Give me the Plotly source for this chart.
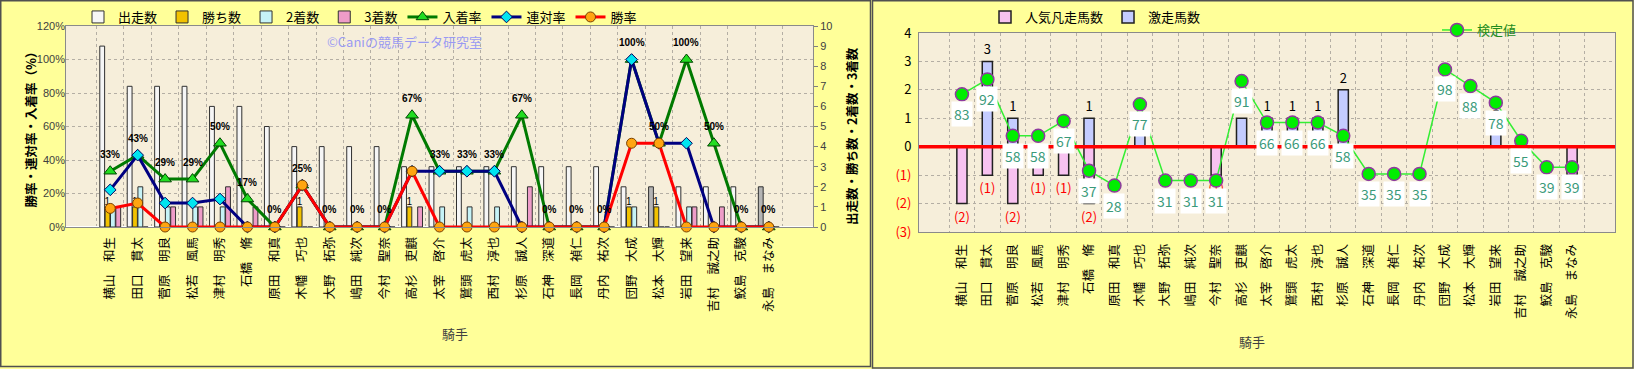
import plotly.graph_objects as go

# ---------------- data ----------------
jockeys = ["横山　和生", "田口　貫太", "菅原　明良", "松若　風馬", "津村　明秀", "石橋　脩",
           "原田　和真", "木幡　巧也", "大野　拓弥", "嶋田　純次", "今村　聖奈", "高杉　吏麒",
           "太宰　啓介", "鷲頭　虎太", "西村　淳也", "杉原　誠人", "石神　深道", "長岡　禎仁",
           "丹内　祐次", "団野　大成", "松本　大輝", "岩田　望来", "吉村　誠之助", "鮫島　克駿",
           "永島　まなみ"]
starts = [9, 7, 7, 7, 6, 6, 5, 4, 4, 4, 4, 3, 3, 3, 3, 3, 3, 3, 3, 2, 2, 2, 2, 2, 2]
wins = [1, 1, 0, 0, 0, 0, 0, 1, 0, 0, 0, 1, 0, 0, 0, 0, 0, 0, 0, 1, 1, 0, 0, 0, 0]
seconds = [1, 2, 1, 1, 1, 0, 0, 0, 0, 0, 0, 0, 1, 1, 1, 0, 0, 0, 0, 1, 0, 1, 0, 0, 0]
thirds = [1, 0, 1, 1, 2, 1, 0, 0, 0, 0, 0, 1, 0, 0, 0, 2, 0, 0, 0, 0, 0, 1, 1, 0, 0]
place_rate = [33.3, 42.9, 28.6, 28.6, 50.0, 16.7, 0, 25.0, 0, 0, 0, 66.7, 33.3, 33.3, 33.3,
              66.7, 0, 0, 0, 100.0, 50.0, 100.0, 50.0, 0, 0]
quinella_rate = [22.2, 42.9, 14.3, 14.3, 16.7, 0, 0, 25.0, 0, 0, 0, 33.3, 33.3, 33.3, 33.3,
                 0, 0, 0, 0, 100.0, 50.0, 50.0, 0, 0, 0]
win_rate = [11.1, 14.3, 0, 0, 0, 0, 0, 25.0, 0, 0, 0, 33.3, 0, 0, 0, 0, 0, 0, 0,
            50.0, 50.0, 0, 0, 0, 0]
gekisou = [0, 3, 1, 0, 0, 1, 0, 1, 0, 0, 0, 1, 1, 1, 1, 2, 0, 0, 0, 0, 0, 1, 0, 0, 0]
bonsou = [-2, -1, -2, -1, -1, -2, 0, 0, 0, 0, -1, 0, 0, 0, 0, 0, 0, 0, 0, 0, 0, 0, 0, 0, -1]
kentei = [83, 92, 58, 58, 67, 37, 28, 77, 31, 31, 31, 91, 66, 66, 66, 58, 35, 35, 35,
          98, 88, 78, 55, 39, 39]
highlight = ["松本　大輝", "永島　まなみ"]
right_ticks = [4, 3, 2, 1, 0, -1, -2, -3]

# ---------------- helpers ----------------
W, H = 1634, 369
def px(x):
    return x / W
def py(y):
    return 1 - y / H

FONT = "Noto Sans CJK JP"
LATIN = "Liberation Sans"
bar_line = dict(color="#303030", width=1)

fig = go.Figure()

# ---------------- left panel ----------------
start_colors = ["#B4B4B4" if j in highlight else "#F6F6F6" for j in jockeys]
fig.add_trace(go.Bar(name="出走数", x=jockeys, y=starts, xaxis="x", yaxis="y",
                     marker=dict(color=start_colors, line=bar_line), offsetgroup="a",
                     legend="legend"))
fig.add_trace(go.Bar(name="勝ち数", x=jockeys, y=wins, xaxis="x", yaxis="y",
                     marker=dict(color="#F2C200", line=bar_line), offsetgroup="b",
                     text=[str(v) if v else "" for v in wins], textposition="outside",
                     textfont=dict(size=10, color="black", family=LATIN),
                     constraintext="none", cliponaxis=False, legend="legend"))
fig.add_trace(go.Bar(name="2着数", x=jockeys, y=seconds, xaxis="x", yaxis="y",
                     marker=dict(color="#C6F3F7", line=bar_line), offsetgroup="c",
                     legend="legend"))
fig.add_trace(go.Bar(name="3着数", x=jockeys, y=thirds, xaxis="x", yaxis="y",
                     marker=dict(color="#EE9CC8", line=bar_line), offsetgroup="d",
                     legend="legend"))
fig.add_trace(go.Scatter(name="入着率", x=jockeys, y=place_rate, xaxis="x", yaxis="y2",
                         mode="lines+markers", line=dict(color="#007A00", width=3),
                         marker=dict(symbol="triangle-up", size=11, color="#22DD22",
                                     line=dict(color="#004400", width=1)),
                         cliponaxis=False, legend="legend"))
fig.add_trace(go.Scatter(name="連対率", x=jockeys, y=quinella_rate, xaxis="x", yaxis="y2",
                         mode="lines+markers", line=dict(color="#000080", width=3),
                         marker=dict(symbol="diamond", size=9, color="#00E5F0",
                                     line=dict(color="#000060", width=1)),
                         cliponaxis=False, legend="legend"))
fig.add_trace(go.Scatter(name="勝率", x=jockeys, y=win_rate, xaxis="x", yaxis="y2",
                         mode="lines+markers", line=dict(color="#FF0000", width=3),
                         marker=dict(symbol="circle", size=10, color="#FFA510",
                                     line=dict(color="#7A4000", width=1)),
                         cliponaxis=False, legend="legend"))

# ---------------- right panel ----------------
fig.add_trace(go.Bar(name="人気凡走馬数", x=jockeys, y=bonsou, xaxis="x2", yaxis="y3",
                     marker=dict(color="#F7C2F0", line=dict(color="#202020", width=1.5)),
                     width=0.4, offset=-0.2,
                     text=[f"({-v})" if v else "" for v in bonsou], textposition="outside",
                     textfont=dict(size=13, color="#FF0000", family=FONT),
                     constraintext="none", cliponaxis=False, legend="legend2"))
fig.add_trace(go.Bar(name="激走馬数", x=jockeys, y=gekisou, xaxis="x2", yaxis="y3",
                     marker=dict(color="#C4CCFF", line=dict(color="#202020", width=1.5)),
                     width=0.4, offset=-0.2,
                     text=[str(v) if v else "" for v in gekisou], textposition="outside",
                     textfont=dict(size=13, color="black", family=FONT),
                     constraintext="none", cliponaxis=False, legend="legend2"))
fig.add_trace(go.Scatter(name="検定値", x=jockeys, y=kentei, xaxis="x2", yaxis="y4",
                         mode="lines+markers", line=dict(color="#33EE33", width=1.5),
                         marker=dict(symbol="circle", size=13, color="#00EE00",
                                     line=dict(color="#8E3A9E", width=1.5)),
                         cliponaxis=False, legend="legend3"))

annotations = []
for j, v in zip(jockeys, place_rate):
    annotations.append(dict(x=j, y=v, xref="x", yref="y2", text=f"<b>{round(v)}%</b>",
                            showarrow=False, yshift=17,
                            font=dict(size=10, color="black", family=LATIN)))
for j, v in zip(jockeys, kentei):
    annotations.append(dict(x=j, y=v, xref="x2", yref="y4", text=str(v),
                            showarrow=False, yshift=-20, bgcolor="white", borderpad=2,
                            font=dict(size=14, color="#3A9A7A", family=FONT)))
annotations += [
    dict(x=px(325), y=py(41), xref="paper", yref="paper", xanchor="left", yanchor="middle",
         text="©Caniの競馬データ研究室", showarrow=False,
         font=dict(size=13, color="#9A9AF2", family=FONT)),
    dict(x=px(18), y=py(127), xref="paper", yref="paper", textangle=-90,
         text="<b>勝率・連対率・入着率（%）</b>", showarrow=False,
         font=dict(size=12.5, color="black", family=FONT)),
    dict(x=px(851), y=py(136), xref="paper", yref="paper", textangle=-90,
         text="<b>出走数・勝ち数・2着数・3着数</b>", showarrow=False,
         font=dict(size=12.5, color="black", family=FONT)),
    dict(x=px(440), y=py(345), xref="paper", yref="paper", text="騎手", showarrow=False,
         font=dict(size=13, color="#404040", family=FONT)),
    dict(x=px(1267), y=py(353), xref="paper", yref="paper", text="騎手", showarrow=False,
         font=dict(size=13, color="#404040", family=FONT)),
]

shapes = [
    dict(type="rect", xref="paper", yref="paper", x0=px(0.75), x1=px(870.5),
         y0=py(366.5), y1=py(0.75), line=dict(color="#505050", width=1.5), layer="below"),
    dict(type="rect", xref="paper", yref="paper", x0=px(872.5), x1=px(1633),
         y0=py(368), y1=py(0.75), line=dict(color="#505050", width=1.5), layer="below"),
    dict(type="line", xref="x2 domain", yref="y3", x0=0, x1=1, y0=0, y1=0,
         line=dict(color="#FF0000", width=3.5), layer="above"),
]

right_text = [str(t) if t >= 0 else f'<span style="color:#FF0000">({-t})</span>'
              for t in right_ticks]

grid = dict(showgrid=True, gridcolor="#B4AEA4", griddash="dot", gridwidth=1)
axline = dict(showline=True, linecolor="#8A8A8A", linewidth=1, mirror=True)

fig.update_layout(
    width=W, height=H,
    margin=dict(l=0, r=0, t=0, b=0, pad=0, autoexpand=False),
    paper_bgcolor="#FFFF99", plot_bgcolor="#F6EEDA",
    font=dict(family=FONT, size=12, color="black"),
    barmode="group", bargap=0.22, bargroupgap=0.1,
    showlegend=True,
    xaxis=dict(domain=[px(66), px(813)], anchor="y", type="category", tickson="boundaries",
               ticks="", tickangle=-90, tickfont=dict(size=12.5, family=FONT),
               ticklabelstandoff=4, automargin=False, **grid, **axline),
    yaxis=dict(domain=[py(227), py(26)], anchor="x", side="right", range=[0, 10], dtick=1,
               ticks="outside", ticklen=4, tickcolor="#808080", showgrid=False,
               automargin=False,
               tickfont=dict(size=11, color="#404040", family=LATIN), **axline),
    yaxis2=dict(overlaying="y", anchor="x", side="left", range=[0, 120], dtick=20,
                ticksuffix="%", tickfont=dict(size=11, color="#404040", family=LATIN),
                ticks="", automargin=False, **grid),
    xaxis2=dict(domain=[px(919), px(1615)], anchor="y3", type="category",
                tickson="boundaries", ticks="", tickangle=-90, ticklabelstandoff=6,
                automargin=False,
                tickfont=dict(size=12.5, family=FONT), **grid, **axline),
    yaxis3=dict(domain=[py(232), py(33)], anchor="x2", range=[-3, 4],
                tickvals=right_ticks, ticktext=right_text, zeroline=False,
                tickfont=dict(size=13, color="black", family=FONT), ticks="",
                ticklabelstandoff=4, automargin=False, **grid, **axline),
    yaxis4=dict(overlaying="y3", anchor="x2", range=[0, 120], visible=False),
    legend=dict(x=px(78), y=py(17), xanchor="left", yanchor="middle", orientation="h",
                bgcolor="rgba(0,0,0,0)", font=dict(size=13, family=FONT),
                tracegroupgap=0, itemwidth=30),
    legend2=dict(x=px(985), y=py(17), xanchor="left", yanchor="middle", orientation="h",
                 bgcolor="rgba(0,0,0,0)", font=dict(size=13, family=FONT), itemwidth=30),
    legend3=dict(x=px(1437), y=py(30), xanchor="left", yanchor="middle", orientation="h",
                 bgcolor="rgba(0,0,0,0)", font=dict(size=13, color="#1E8C1E", family=FONT),
                 itemwidth=30),
    annotations=annotations,
    shapes=shapes,
)

fig.write_html("out.html")
